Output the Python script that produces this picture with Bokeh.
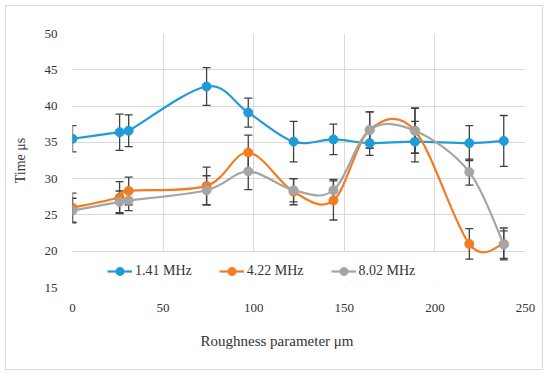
from bokeh.plotting import figure
from bokeh.models import (ColumnDataSource, Whisker, TeeHead, FixedTicker, Legend, LegendItem,
                          BoxAnnotation, Title, Range1d)
from bokeh.embed import file_html
from bokeh.resources import INLINE

# ---- data ----
roughness = [0, 26, 31, 74, 97, 122, 144, 164, 189, 219, 238]
t_141 = [35.5, 36.4, 36.6, 42.7, 39.1, 35.1, 35.4, 34.9, 35.1, 34.9, 35.2]
e_141 = [1.8, 2.5, 2.2, 2.6, 2.0, 2.8, 2.1, 1.7, 2.8, 2.4, 3.5]
t_422 = [26.0, 27.4, 28.3, 29.0, 33.6, 28.2, 27.0, 36.7, 36.6, 21.0, 21.0]
e_422 = [2.0, 2.2, 1.9, 2.6, 2.4, 1.8, 2.7, 2.5, 3.1, 2.1, 2.2]
t_802 = [25.6, 26.8, 27.0, 28.4, 31.0, 28.4, 28.4, 36.7, 36.6, 30.9, 20.9]
e_802 = [1.7, 1.5, 1.4, 2.0, 2.5, 1.6, 1.5, 2.5, 3.1, 1.8, 1.9]
series_names = ["1.41 MHz", "4.22 MHz", "8.02 MHz"]
series_colors = ["#1f9bd8", "#f47b20", "#a5a5a5"]
x_ticks = [0, 50, 100, 150, 200, 250]
y_ticks = [15, 20, 25, 30, 35, 40, 45, 50]

FONT = "Liberation Serif"
TXT = "#333333"
GRID = "#d9d9d9"


def smooth_segments(xs, ys):
    """Excel-like smoothed line: cubic Bezier segments (Catmull-Rom, 1/6 tension)."""
    n = len(xs)
    seg = dict(x0=[], y0=[], x1=[], y1=[], cx0=[], cy0=[], cx1=[], cy1=[])
    for i in range(n - 1):
        a = i - 1 if i > 0 else i
        d = i + 2 if i + 2 < n else i + 1
        seg["x0"].append(xs[i]); seg["y0"].append(ys[i])
        seg["x1"].append(xs[i + 1]); seg["y1"].append(ys[i + 1])
        seg["cx0"].append(xs[i] + (xs[i + 1] - xs[a]) / 6)
        seg["cy0"].append(ys[i] + (ys[i + 1] - ys[a]) / 6)
        seg["cx1"].append(xs[i + 1] - (xs[d] - xs[i]) / 6)
        seg["cy1"].append(ys[i + 1] - (ys[d] - ys[i]) / 6)
    return seg


p = figure(frame_width=453, frame_height=254, output_backend="svg", toolbar_location=None,
           x_range=Range1d(0, 250), y_range=Range1d(15, 50),
           min_border_left=66, min_border_right=17, min_border_top=27, min_border_bottom=82)
p.styles = {"border": "1px solid #d9d9d9", "margin-top": "5px", "margin-left": "5px"}
p.outline_line_color = None
p.background_fill_color = "white"
p.border_fill_color = "white"

p.xaxis.ticker = FixedTicker(ticks=x_ticks)
p.yaxis.ticker = FixedTicker(ticks=y_ticks)
for ax in (p.xaxis, p.yaxis):
    ax.axis_line_color = None
    ax.major_tick_line_color = None
    ax.minor_tick_line_color = None
    ax.major_tick_out = 0
    ax.major_tick_in = 0
    ax.minor_tick_out = 0
    ax.minor_tick_in = 0
    ax.major_label_text_font = FONT
    ax.major_label_text_font_size = "13px"
    ax.major_label_text_color = TXT
    ax.axis_label_text_font = FONT
    ax.axis_label_text_font_size = "14px"
    ax.axis_label_text_font_style = "normal"
    ax.axis_label_text_color = TXT
p.yaxis.major_label_standoff = 15
p.xaxis.major_label_standoff = 16
p.yaxis.axis_label = "Time μs"
p.yaxis.axis_label_standoff = 14

p.xgrid.grid_line_color = GRID
p.ygrid.grid_line_color = GRID

# x axis title, centred on the whole chart rather than on the plot area
xt = Title(text="Roughness parameter μm", align="left", offset=128, standoff=33,
           text_font=FONT, text_font_size="15px", text_font_style="normal",
           text_color=TXT)
p.add_layout(xt, "below")

items = []
data = [(t_141, e_141), (t_422, e_422), (t_802, e_802)]
for (vals, errs), name, col in zip(data, series_names, series_colors):
    src = ColumnDataSource(dict(x=roughness, y=vals,
                                upper=[v + e for v, e in zip(vals, errs)],
                                lower=[v - e for v, e in zip(vals, errs)]))
    w = Whisker(base="x", upper="upper", lower="lower", source=src, dimension="height",
                line_color="#404040", line_width=1.3,
                upper_head=TeeHead(size=8, line_color="#404040", line_width=1.3),
                lower_head=TeeHead(size=8, line_color="#404040", line_width=1.3))
    p.add_layout(w)

for (vals, errs), name, col in zip(data, series_names, series_colors):
    seg = ColumnDataSource(smooth_segments(roughness, vals))
    p.bezier(x0="x0", y0="y0", x1="x1", y1="y1", cx0="cx0", cy0="cy0", cx1="cx1", cy1="cy1",
             source=seg, line_color=col, line_width=2.2)
    sc = p.scatter(roughness, vals, size=9, fill_color=col, line_color=col)
    lg = p.line([float("nan")], [float("nan")], line_color=col, line_width=2.2)
    items.append(LegendItem(label=name, renderers=[lg, sc]))

# white legend background box inside plot area
p.add_layout(BoxAnnotation(left=0.6, right=204, bottom=15.15, top=19.88,
                           fill_color="white", fill_alpha=1, line_color=None))

legend = Legend(items=items, orientation="horizontal", location=(35, 6),
                padding=6, margin=0, spacing=27, glyph_width=25, glyph_height=20,
                label_standoff=3, label_text_font=FONT, label_text_font_size="14px",
                label_text_color=TXT, background_fill_alpha=0, border_line_color=None)
p.add_layout(legend, "center")

open("out.html", "w").write(file_html(p, INLINE))
